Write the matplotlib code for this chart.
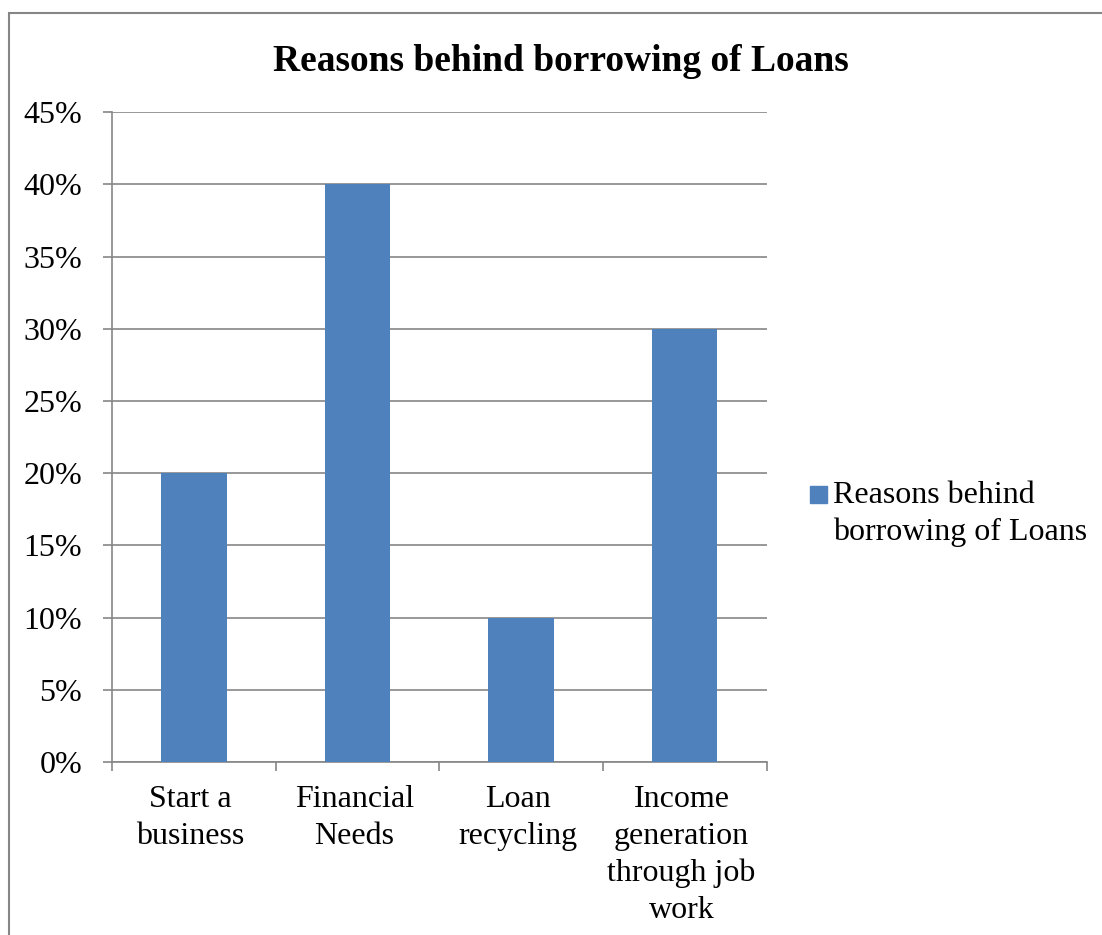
import matplotlib.pyplot as plt
from matplotlib.patches import Rectangle
from matplotlib.ticker import PercentFormatter

plt.rcParams['font.family'] = ['Liberation Serif', 'DejaVu Serif']

categories = ['Start a\nbusiness', 'Financial\nNeeds', 'Loan\nrecycling',
              'Income\ngeneration\nthrough job\nwork']
shares = [20, 40, 10, 30]
series_name = 'Reasons behind\nborrowing of Loans'
title = 'Reasons behind borrowing of Loans'

bar_color = '#4F81BD'
line_color = '#868686'
label_size = 23

fig = plt.figure(figsize=(11.02, 9.35), dpi=100)
ax = fig.add_axes([0.1016, 0.185, 0.594, 0.695])

x = range(len(categories))
ax.bar(x, shares, width=0.4, color=bar_color, zorder=3, label=series_name)

ax.set_xlim(-0.5, len(categories) - 0.5)
ax.set_ylim(0, 45)
ax.set_yticks(range(0, 46, 5))
ax.yaxis.set_major_formatter(PercentFormatter(decimals=0))
ax.grid(axis='y', color=line_color, linewidth=1.2, zorder=0)

# category labels sit between the boundary ticks
ax.set_xticks([i - 0.5 for i in range(len(categories) + 1)])
ax.set_xticklabels([])
for i, lab in enumerate(categories):
    ax.text(i - 0.02, -1.6, lab, ha='center', va='top', fontsize=label_size,
            linespacing=1.35, transform=ax.transData)

for side in ('top', 'right'):
    ax.spines[side].set_visible(False)
for side in ('left', 'bottom'):
    ax.spines[side].set_color(line_color)
    ax.spines[side].set_linewidth(1.2)
ax.tick_params(axis='both', direction='out', length=6.5, width=1.2,
               color=line_color, labelsize=label_size)
ax.tick_params(axis='y', pad=15)

fig.text(0.509, 0.934, title, ha='center', va='center', fontsize=27,
         fontweight='bold')

# legend: swatch lines up with the first line of the series name
W, H = 1102, 935
fig.patches.append(Rectangle((810 / W, 1 - 503 / H), 17 / W, 17 / H,
                             transform=fig.transFigure, color=bar_color))
fig.text(833 / W, 1 - 481 / H, series_name, ha='left', va='top',
         fontsize=label_size, linespacing=1.35)

# outer chart border (right and bottom edges fall outside the image)
fig.patches.append(Rectangle((0.0085, -0.05), 1.2, 1.036,
                             transform=fig.transFigure, fill=False,
                             edgecolor=line_color, linewidth=1.5))

fig.savefig('out.png', dpi=100)
